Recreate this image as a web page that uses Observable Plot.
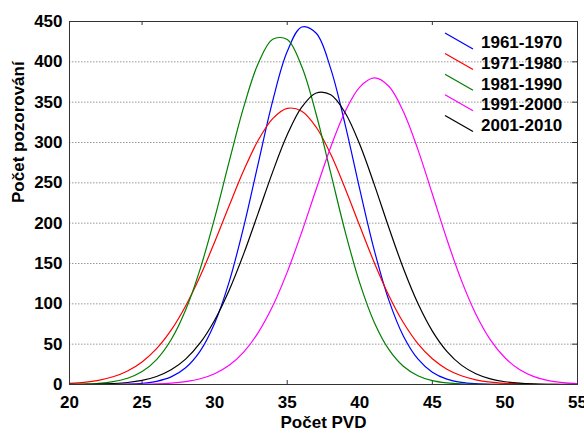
<!DOCTYPE html>
<html>
<head>
<meta charset="utf-8">
<script src="https://cdn.jsdelivr.net/npm/d3@7"></script>
<script src="https://cdn.jsdelivr.net/npm/@observablehq/plot@0.6"></script>
<style>
  html, body { margin: 0; padding: 0; background: #fff; }
  #chart { width: 584px; height: 434px; overflow: hidden; }
</style>
</head>
<body>
<div id="chart"></div>
<script>
const xs = [20,21,22,23,24,25,26,27,28,29,30,31,32,33,34,35,36,37,38,39,40,41,42,43,44,45,46,47,48,49,50,51,52,53,54,55];

const series = ["1961-1970", "1971-1980", "1981-1990", "1991-2000", "2001-2010"];
const colors = ["#0000ff", "#ff0000", "#008000", "#ff00ff", "#000000"];

const v1961 = [0,0,0.05,0.2,0.5,1.5,3.9,9.4,20.7,41.4,76,127.3,195.3,273.9,351.6,412.7,443.2,435.4,391.3,321.6,241.8,166.3,104.6,60.2,31.7,15.3,6.7,2.7,1.0,0.3,0.1,0,0,0,0,0];
const v1971 = [1.4,2.7,5.2,9.6,16.8,28,44.4,67.3,97.4,134.2,176.6,221.6,265.2,302.7,329.6,342.3,338.8,318.9,285.3,242.7,196.4,151,110.4,76.8,50.7,31.9,19,10.8,5.8,3,1.5,0.7,0.3,0.1,0,0];
const v1981 = [0.2,0.6,1.4,3.5,7.7,16,30.9,55.4,92.3,143.1,206.2,276.2,343.8,397.9,428.1,427.6,394.1,334.7,262,189,125.7,77,43.5,22.6,10.9,4.8,2,0.7,0.25,0.08,0,0,0,0,0,0];
const v1991 = [0,0,0,0.05,0.13,0.33,0.76,1.7,3.6,7.1,13.4,23.8,40.2,64.3,97.2,139.3,188.8,242.4,294.4,338.7,368.7,380,369.7,338.4,291.5,236.1,180,129.1,87.1,55.3,33.1,18.6,9.8,4.9,2.3,1.0];
const v2001 = [0.1,0.2,0.5,1.2,2.5,5.1,9.9,18.2,31.4,51.5,79.7,116.8,161.9,212.4,263.6,309.5,343.8,361.4,359.2,336.6,297.5,247.8,194.6,144.1,100.6,66.2,41.1,24,13.3,6.9,3.4,1.6,0.7,0.3,0.1,0];

const xTickLabels = [20,25,30,35,40,45,50,55];
const xMinorTicks = [25,35,45];
const yTickLabels = [0,50,100,150,200,250,300,350,400,450];
const yGrid = [50,100,150,200,250,300,350,400];

const xLabel = "Počet PVD";
const yLabel = "Počet pozorování";

const valueSets = [v1961, v1971, v1981, v1991, v2001];
const rows = [];
series.forEach((s, i) => xs.forEach((x, j) => rows.push({x, y: valueSets[i][j], s})));

const W = 584, H = 434;
const mL = 69, mR = 7, mT = 21, mB = 50;
const innerW = W - mL - mR, innerH = H - mT - mB;
const FONT = "'Liberation Sans', Arial, Helvetica, sans-serif";

const chart = Plot.plot({
  width: W,
  height: H,
  marginLeft: mL,
  marginRight: mR,
  marginTop: mT,
  marginBottom: mB,
  style: { background: "#fff", fontFamily: FONT, color: "#000" },
  x: { domain: [20, 55] },
  y: { domain: [0, 450] },
  color: { domain: series, range: colors },
  marks: [
    Plot.gridY(yGrid, { stroke: "#999", strokeOpacity: 1, strokeDasharray: "1.5,1.5" }),
    Plot.axisY({ ticks: yTickLabels, tickSize: 0, tickPadding: 7, label: null, fontSize: 17, fontWeight: "bold" }),
    Plot.axisX({ ticks: xTickLabels, tickSize: 0, tickPadding: 11, label: null, fontSize: 17, fontWeight: "bold" }),
    Plot.tickX(xMinorTicks, { x: d => d, insetBottom: innerH - 4, stroke: "#333" }),
    Plot.tickX(xMinorTicks, { x: d => d, insetTop: innerH - 4, stroke: "#333" }),
    Plot.tickY(yGrid, { y: d => d, insetLeft: innerW - 5, stroke: "#333" }),
    Plot.line(rows, { x: "x", y: "y", z: "s", stroke: "s", strokeWidth: 1.2, curve: "catmull-rom" }),
    Plot.frame({ stroke: "#333", strokeWidth: 1 }),
    Plot.text([xLabel], { text: d => d, frameAnchor: "bottom", dy: 43, fontSize: 17, fontWeight: "bold", fill: "#000" }),
    Plot.text([yLabel], { text: d => d, frameAnchor: "left", dx: -51, rotate: -90, fontSize: 17, fontWeight: "bold", fill: "#000" })
  ]
});

document.getElementById("chart").appendChild(chart);

// legend inside the plot area (top right)
const svg = d3.select(chart);
const lg = svg.append("g")
  .attr("font-family", FONT)
  .attr("font-size", 17)
  .attr("font-weight", "bold")
  .attr("text-anchor", "start");
series.forEach((s, i) => {
  const y0 = 33 + i * 20.6;
  lg.append("line")
    .attr("x1", 445).attr("y1", y0)
    .attr("x2", 473).attr("y2", y0 + 16)
    .attr("stroke", colors[i]).attr("stroke-width", 1.2);
  lg.append("text")
    .attr("x", 481).attr("y", y0 + 15.4)
    .attr("fill", "#000")
    .attr("text-anchor", "start")
    .text(s);
});
</script>
</body>
</html>
